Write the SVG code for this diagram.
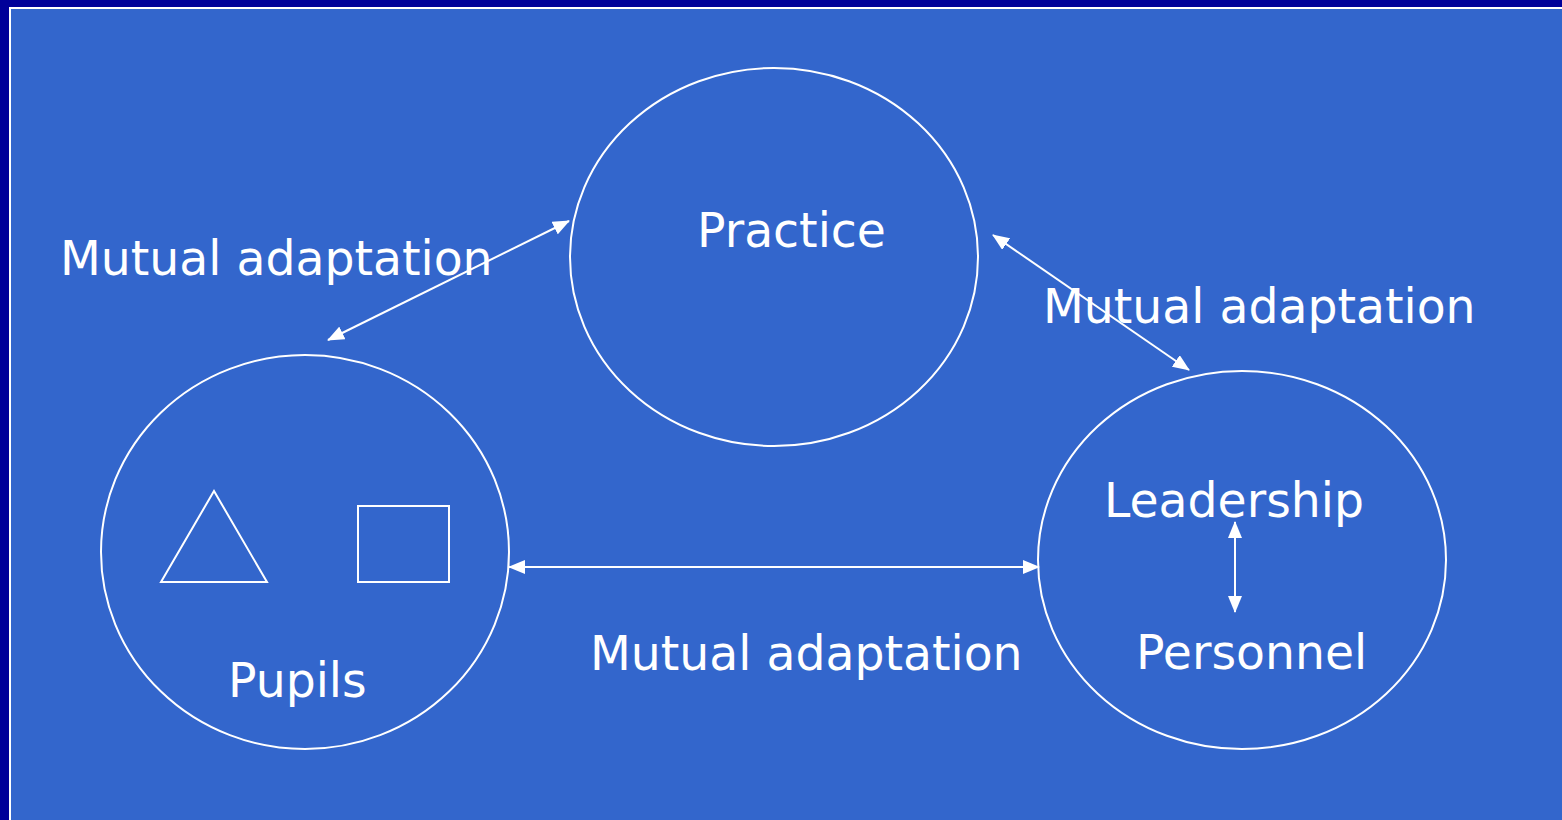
<svg xmlns="http://www.w3.org/2000/svg" width="1562" height="820" viewBox="0 0 1562 820">
  <style>
    .shape { fill: none; stroke: #ffffff; stroke-width: 2; }
    .link { stroke: #ffffff; stroke-width: 2; fill: none; marker-start: url(#head); marker-end: url(#head); }
    .label { fill: #ffffff; font-family: "DejaVu Sans", Verdana, sans-serif; font-size: 47.3px; }
  </style>
  <defs>
    <marker id="head" viewBox="0 0 17 14" refX="16" refY="7" markerWidth="17" markerHeight="14" markerUnits="userSpaceOnUse" orient="auto-start-reverse">
      <path d="M0,0 L17,7 L0,14 Z" fill="#ffffff"/>
    </marker>
  </defs>

  <!-- slide frame -->
  <rect x="0" y="0" width="1562" height="820" fill="#000099"/>
  <rect x="9" y="7" width="1553" height="813" fill="#ffffff"/>
  <rect x="11" y="9" width="1551" height="811" fill="#3366cc"/>

  <g id="practice">
    <ellipse class="shape" cx="774" cy="257" rx="204" ry="189"/>
    <text class="label" x="697" y="247">Practice</text>
  </g>

  <g id="pupils">
    <ellipse class="shape" cx="305" cy="552" rx="204" ry="197"/>
    <polygon class="shape" points="214,491 267,582 161,582"/>
    <rect class="shape" x="358" y="506" width="91" height="76"/>
    <text class="label" x="228" y="697">Pupils</text>
  </g>

  <g id="leadership-personnel">
    <ellipse class="shape" cx="1242" cy="560" rx="204" ry="189"/>
    <text class="label" x="1104" y="517">Leadership</text>
    <text class="label" x="1136" y="669">Personnel</text>
  </g>

  <g id="connectors">
    <line class="link" x1="569" y1="221" x2="328" y2="340"/>
    <line class="link" x1="993" y1="235" x2="1189" y2="370"/>
    <line class="link" x1="509" y1="567" x2="1039" y2="567"/>
    <line class="link" x1="1235" y1="522" x2="1235" y2="612"/>
  </g>

  <g id="connector-labels">
    <text class="label" x="60" y="275">Mutual adaptation</text>
    <text class="label" x="1043" y="323">Mutual adaptation</text>
    <text class="label" x="590" y="670">Mutual adaptation</text>
  </g>
</svg>
